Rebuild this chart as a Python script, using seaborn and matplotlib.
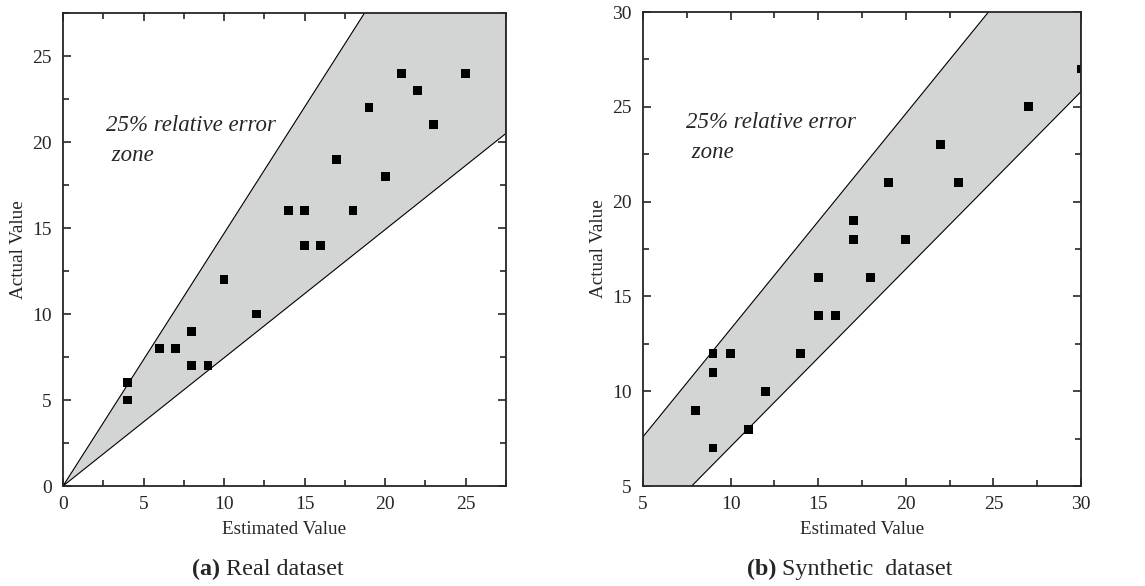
import matplotlib
matplotlib.use("Agg")
import matplotlib.pyplot as plt
import seaborn as sns
import pandas as pd
from matplotlib.ticker import MultipleLocator

# ----------------------------
# Data
# ----------------------------
real_est = [4, 4, 6, 7, 8, 8, 9, 10, 12, 14, 15, 15, 16, 17, 18, 19, 20, 21, 22, 23, 25]
real_act = [6, 5, 8, 8, 9, 7, 7, 12, 10, 16, 16, 14, 14, 19, 16, 22, 18, 24, 23, 21, 24]

syn_est = [8, 9, 9, 9, 10, 11, 12, 14, 15, 15, 16, 17, 17, 18, 19, 20, 22, 23, 27, 30]
syn_act = [9, 12, 11, 7, 12, 8, 10, 12, 16, 14, 14, 19, 18, 16, 21, 18, 23, 21, 25, 27]

# error zone outlines (x, y) for each panel
real_zone_x = [0, 27.5, 27.5]
real_zone_y = [0, 40.4, 20.5]
syn_zone_x = [5, 5, 30, 30]
syn_zone_y = [2.4, 7.6, 36.0, 25.8]

sns.set_style("ticks")
plt.rcParams["font.family"] = ["Liberation Serif", "DejaVu Serif"]
plt.rcParams["xtick.direction"] = "in"
plt.rcParams["ytick.direction"] = "in"

fig = plt.figure(figsize=(11.45, 5.86), dpi=100)
ax1 = fig.add_axes([0.0550, 0.1706, 0.3869, 0.8072])
ax2 = fig.add_axes([0.5616, 0.1706, 0.3825, 0.8089])

zone_color = "#d3d4d4"

panels = [
    (ax1, real_est, real_act, real_zone_x, real_zone_y, (0, 27.5), (2.67, 20.1)),
    (ax2, syn_est, syn_act, syn_zone_x, syn_zone_y, (5, 30), (7.45, 23.4)),
]

for ax, xs, ys, zx, zy, lim, txt in panels:
    ax.fill(zx, zy, facecolor=zone_color, edgecolor="black", linewidth=0.8, zorder=1)
    df = pd.DataFrame({"Estimated Value": xs, "Actual Value": ys})
    sns.scatterplot(data=df, x="Estimated Value", y="Actual Value", ax=ax,
                    marker="s", s=40, color="black", edgecolor="none", zorder=3)
    ax.set_xlim(*lim)
    ax.set_ylim(*lim)
    ax.xaxis.set_major_locator(MultipleLocator(5))
    ax.yaxis.set_major_locator(MultipleLocator(5))
    ax.xaxis.set_minor_locator(MultipleLocator(2.5))
    ax.yaxis.set_minor_locator(MultipleLocator(2.5))
    ax.tick_params(which="both", top=True, right=True, width=1.2, labelsize=14)
    ax.tick_params(which="major", length=6)
    ax.tick_params(which="minor", length=4)
    ax.tick_params(axis="x", pad=7)
    ax.tick_params(axis="y", pad=8)
    for sp in ax.spines.values():
        sp.set_linewidth(1.3)
        sp.set_zorder(4)
    ax.set_xlabel("Estimated Value", fontsize=13.8, labelpad=6)
    ax.set_ylabel("Actual Value", fontsize=13.8, labelpad=4)
    ax.text(txt[0], txt[1], "25% relative error\n zone", fontsize=16.5,
            style="italic", va="center", ha="left", linespacing=1.55)

# captions
ta = fig.text(192 / 1145, 0.028, "(a)", fontsize=17.4, fontweight="bold", va="center")
ax1.annotate(" Real dataset", xy=(1, 0), xycoords=ta, fontsize=17.4, va="bottom",
             annotation_clip=False)
tb = fig.text(747 / 1145, 0.028, "(b)", fontsize=17.4, fontweight="bold", va="center")
ax2.annotate(" Synthetic  dataset", xy=(1, 0), xycoords=tb, fontsize=17.4, va="bottom",
             annotation_clip=False)

plt.savefig("out.png", dpi=100)
plt.close()
